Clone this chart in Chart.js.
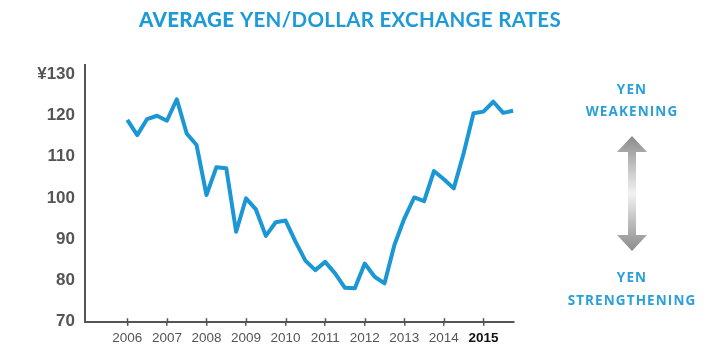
<!DOCTYPE html>
<html>
<head>
<meta charset="utf-8">
<script src="https://cdn.jsdelivr.net/npm/chart.js@4/dist/chart.umd.min.js"></script>
<style>
  html, body { margin: 0; padding: 0; background: #fff; }
  #wrap { position: relative; width: 710px; height: 352px; overflow: hidden; }
  #c { position: absolute; left: 0; top: 0; }
  .title { position: absolute; left: 0; width: 700px; top: 7px; text-align: center;
           font-family: Lato, "Open Sans", sans-serif; font-size: 20.5px; color: #1e9ad6;
           letter-spacing: 0.3px; white-space: nowrap; }
  .title b { font-weight: 900; }
  .title span { font-weight: 700; }
  .note { position: absolute; width: 180px; left: 542px; text-align: center;
          font-family: "Open Sans", Lato, sans-serif; font-weight: 700; font-size: 13.5px;
          letter-spacing: 1.1px; color: #2a9fd8; line-height: 16px; white-space: nowrap; }
  svg { position: absolute; left: 0; top: 0; }
</style>
</head>
<body>
<div id="wrap">
  <canvas id="c" width="710" height="352"></canvas>
  <div class="title"><b>AVERAGE</b> <span>YEN/DOLLAR EXCHANGE RATES</span></div>
  <div class="note" style="top:81px">YEN</div>
  <div class="note" style="top:103px">WEAKENING</div>
  <div class="note" style="top:269px">YEN</div>
  <div class="note" style="top:292px">STRENGTHENING</div>
  <svg width="710" height="352">
    <defs>
      <linearGradient id="g" x1="0" y1="136" x2="0" y2="251" gradientUnits="userSpaceOnUse">
        <stop offset="0" stop-color="#8a8a8a"/>
        <stop offset="0.5" stop-color="#f2f2f2"/>
        <stop offset="1" stop-color="#8a8a8a"/>
      </linearGradient>
    </defs>
    <polygon fill="url(#g)" points="632,136 647,152 636,152 636,235 647,235 632,251 617,235 628,235 628,152 617,152"/>
  </svg>
</div>
<script>
// ---- data ----
const quarters = [
  '2006 Q1','2006 Q2','2006 Q3','2006 Q4',
  '2007 Q1','2007 Q2','2007 Q3','2007 Q4',
  '2008 Q1','2008 Q2','2008 Q3','2008 Q4',
  '2009 Q1','2009 Q2','2009 Q3','2009 Q4',
  '2010 Q1','2010 Q2','2010 Q3','2010 Q4',
  '2011 Q1','2011 Q2','2011 Q3','2011 Q4',
  '2012 Q1','2012 Q2','2012 Q3','2012 Q4',
  '2013 Q1','2013 Q2','2013 Q3','2013 Q4',
  '2014 Q1','2014 Q2','2014 Q3','2014 Q4',
  '2015 Q1','2015 Q2','2015 Q3','2015 Q4'
];
const yenPerDollar = [
  118.9, 115.2, 119.1, 119.9,
  118.7, 123.9, 115.6, 112.8,
  100.7, 107.4, 107.2, 91.8,
  99.9, 97.2, 90.8, 94.1,
  94.5, 89.4, 84.8, 82.5,
  84.5, 81.7, 78.2, 78.1,
  84.1, 80.9, 79.3, 88.6,
  95.0, 100.1, 99.2, 106.5,
  104.5, 102.3, 110.8, 120.5,
  120.9, 123.3, 120.6, 121.1
];
const yearTicks = [2006, 2007, 2008, 2009, 2010, 2011, 2012, 2013, 2014, 2015];
const rateTicks = [70, 80, 90, 100, 110, 120, 130];

const points = quarters.map((q, i) => {
  const [yr, qq] = q.split(' Q');
  return { x: Number(yr) + (Number(qq) - 1) / 4, y: yenPerDollar[i] };
});

const sans = '"Liberation Sans", Arial, sans-serif';

const upTicks = {
  id: 'upTicks',
  afterDraw(chart) {
    const xs = chart.scales.x, ctx = chart.ctx;
    ctx.save();
    ctx.strokeStyle = '#555';
    ctx.lineWidth = 1.5;
    yearTicks.forEach(v => {
      const px = Math.round(xs.getPixelForValue(v)) + 0.5;
      ctx.beginPath();
      ctx.moveTo(px, xs.top - 3.5);
      ctx.lineTo(px, xs.top);
      ctx.stroke();
    });
    ctx.restore();
  }
};

new Chart(document.getElementById('c'), {
  type: 'line',
  data: {
    datasets: [{
      data: points,
      borderColor: '#1b97d5',
      borderWidth: 4,
      pointRadius: 0,
      tension: 0,
      borderJoinStyle: 'round',
      clip: false
    }]
  },
  options: {
    responsive: false,
    animation: false,
    events: [],
    layout: { padding: { left: 0, top: 65, right: 196.5, bottom: 0 } },
    plugins: { legend: { display: false }, tooltip: { enabled: false }, title: { display: false } },
    scales: {
      x: {
        type: 'linear',
        min: 2004.93,
        max: 2015.76,
        afterBuildTicks: s => { s.ticks = yearTicks.map(v => ({ value: v })); },
        afterFit: s => { s.height = 30.3; },
        border: { display: true, color: '#555', width: 2 },
        grid: { display: true, drawOnChartArea: false, drawTicks: true, tickLength: 4, color: '#555', lineWidth: 1.5 },
        ticks: {
          padding: 4,
          maxRotation: 0,
          autoSkip: false,
          callback: v => String(v),
          color: c => (c.tick && c.tick.value === 2015) ? '#111' : '#555',
          font: c => ({ family: sans, size: 13.5, weight: (c.tick && c.tick.value === 2015) ? 'bold' : 'normal' })
        }
      },
      y: {
        min: 70,
        max: 132.2,
        afterBuildTicks: s => { s.ticks = rateTicks.map(v => ({ value: v })); },
        afterFit: s => { s.width = 85; },
        border: { display: true, color: '#555', width: 2 },
        grid: { display: false, drawTicks: false },
        ticks: {
          padding: 10,
          color: '#555',
          font: { family: sans, size: 17, weight: 'bold' },
          callback: v => (v === 130 ? '¥' + v : String(v))
        }
      }
    }
  },
  plugins: [upTicks]
});
</script>
</body>
</html>
